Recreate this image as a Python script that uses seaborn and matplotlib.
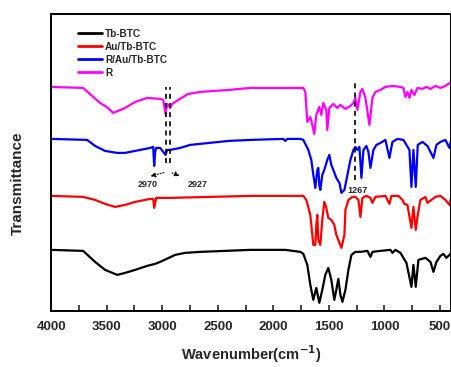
import numpy as np
import pandas as pd
import seaborn as sns
import matplotlib.pyplot as plt

# FTIR spectra (transmittance, arbitrary units incl. stacking offset)
r_wn = [4000, 3712, 3640, 3560, 3500, 3441, 3333, 3243, 3135, 3018, 2990, 2970, 2955, 2940, 2927,
        2910, 2856, 2766, 2658, 2400, 2207, 1910, 1730, 1712, 1694, 1667, 1649, 1631, 1613, 1586,
        1568, 1550, 1523, 1514, 1496, 1460, 1424, 1396, 1351, 1306, 1279, 1261, 1243, 1216, 1198,
        1171, 1135, 1108, 1081, 1036, 991, 928, 856, 829, 811, 793, 775, 757, 730, 703,
        658, 622, 586, 541, 496, 451, 400]
r_T = [224, 223, 216, 208, 204, 198, 203, 209, 213, 212, 211, 197, 207, 205, 203,
       207, 211, 217, 219, 221, 223, 223, 223, 219, 189, 194, 186, 177, 196, 204,
       196, 208, 201, 181, 203, 207, 203, 206, 202, 205, 208, 213, 201, 219, 222,
       213, 186, 213, 219, 221, 224, 225, 224, 223, 214, 219, 213, 221, 216, 223,
       222, 224, 222, 225, 223, 225, 229]

rau_wn = [4000, 3676, 3604, 3514, 3405, 3333, 3243, 3108, 3081, 3072, 3063, 3054, 3018, 2970, 2955,
          2927, 2838, 2748, 2400, 2207, 1910, 1892, 1874, 1757, 1730, 1685, 1658, 1640, 1622, 1604,
          1595, 1586, 1577, 1559, 1541, 1514, 1496, 1478, 1460, 1433, 1405, 1387, 1360, 1333, 1306,
          1279, 1261, 1243, 1225, 1207, 1189, 1162, 1144, 1126, 1099, 1072, 1036, 991, 955, 928,
          883, 829, 802, 775, 757, 739, 718, 700, 658, 613, 559, 532, 496, 451, 415, 400]
rau_T = [172, 171, 165, 160, 158, 158, 160, 163, 164, 145, 159, 163, 163, 156, 161,
         161, 163, 166, 170, 171, 172, 170, 172, 172, 171, 161, 151, 136, 123, 141,
         143, 126, 121, 136, 141, 151, 156, 146, 141, 133, 128, 118, 121, 136, 151,
         161, 164, 161, 164, 133, 161, 165, 159, 143, 161, 166, 168, 171, 153, 169,
         172, 171, 166, 161, 124, 161, 124, 166, 169, 165, 153, 166, 169, 171, 163, 171]

au_wn = [4000, 3712, 3604, 3514, 3423, 3333, 3243, 3108, 3081, 3072, 3054, 2927, 2207, 1730, 1703,
         1667, 1640, 1622, 1613, 1604, 1595, 1577, 1559, 1541, 1523, 1505, 1478, 1451, 1433, 1387,
         1360, 1351, 1324, 1288, 1261, 1234, 1216, 1198, 1162, 1126, 1108, 1081, 991, 955, 937,
         874, 838, 820, 793, 757, 739, 718, 700, 676, 631, 613, 577, 541, 496, 451, 415, 400]
au_T = [115, 114, 111, 107, 104, 106, 109, 112, 112, 103, 113, 113, 115, 115, 111,
        96, 66, 66, 86, 96, 71, 66, 91, 109, 103, 93, 91, 86, 76, 63,
        76, 101, 111, 114, 114, 111, 94, 113, 115, 113, 108, 114, 115, 107, 115,
        115, 111, 107, 106, 83, 104, 81, 96, 111, 114, 108, 111, 114, 115, 111, 106, 113]

tb_wn = [4000, 3712, 3604, 3514, 3405, 3333, 3243, 3135, 3063, 3018, 2883, 2793, 2658, 2207, 1892,
         1757, 1730, 1694, 1667, 1640, 1613, 1586, 1559, 1532, 1505, 1478, 1451, 1433, 1415, 1396,
         1378, 1351, 1324, 1297, 1261, 1216, 1153, 1126, 1108, 1036, 946, 928, 901, 856, 829,
         802, 757, 739, 718, 694, 631, 586, 559, 532, 496, 469, 442, 415, 400]
tb_T = [61, 60, 49, 41, 36, 38, 41, 45, 47, 49, 56, 58, 59, 61, 61,
        59, 57, 46, 26, 11, 23, 8, 21, 36, 43, 31, 11, 21, 32, 16,
        9, 21, 41, 56, 59, 59, 60, 54, 59, 60, 61, 58, 61, 58, 53,
        48, 24, 46, 24, 51, 53, 49, 39, 49, 55, 57, 53, 56, 58]

names = ["Tb-BTC", "Au/Tb-BTC", "R/Au/Tb-BTC", "R"]
colors = ["black", "#ff0000", "#0000ff", "#ff00ff"]
marks = [2970, 2927, 1267]

df = pd.concat([
    pd.DataFrame({"wn": tb_wn, "T": tb_T, "sample": "Tb-BTC"}),
    pd.DataFrame({"wn": au_wn, "T": au_T, "sample": "Au/Tb-BTC"}),
    pd.DataFrame({"wn": rau_wn, "T": rau_T, "sample": "R/Au/Tb-BTC"}),
    pd.DataFrame({"wn": r_wn, "T": r_T, "sample": "R"}),
])

sns.set_style("white")
plt.rcParams["font.family"] = ["Liberation Sans", "DejaVu Sans"]
plt.rcParams["font.weight"] = "bold"
plt.rcParams["mathtext.default"] = "bf"

fig = plt.figure(figsize=(4.52, 3.67), dpi=100)
ax = fig.add_axes([0.113, 0.153, 0.885, 0.809])

sns.lineplot(data=df, x="wn", y="T", hue="sample", hue_order=names, palette=colors,
             sort=False, estimator=None, linewidth=1.6, ax=ax)

# dashed marker lines
ax.plot([marks[0], marks[0]], [148, 224], color="black", ls=(0, (3, 2.5)), lw=1.2)
ax.plot([marks[1], marks[1]], [148, 224], color="black", ls=(0, (3, 2.5)), lw=1.2)
ax.plot([marks[2], marks[2]], [131, 229], color="black", ls=(0, (3, 2.5)), lw=1.2)

ax.annotate("", xy=(3130, 134), xytext=(2960, 139),
            arrowprops=dict(arrowstyle="-|>", ls=":", color="black", lw=0.8, mutation_scale=7))
ax.annotate("", xy=(2820, 134), xytext=(2935, 139),
            arrowprops=dict(arrowstyle="-|>", ls=":", color="black", lw=0.8, mutation_scale=7))
ax.text(3130, 126, "2970", fontsize=6.5, fontweight="bold", ha="center", va="center")
ax.text(2680, 126, "2927", fontsize=6.5, fontweight="bold", ha="center", va="center")
ax.text(1240, 120, "1267", fontsize=6.5, fontweight="bold", ha="center", va="center")

ax.set_xlim(4000, 400)
ax.set_ylim(0, 297)
ax.set_xticks([4000, 3500, 3000, 2500, 2000, 1500, 1000, 500])
ax.set_xticks(np.arange(3750, 400, -500), minor=True)
ax.set_yticks([])
ax.tick_params(axis="x", which="both", direction="in", length=4, width=1.2,
               labelsize=9.5, bottom=True, pad=7)
for lab in ax.get_xticklabels():
    lab.set_fontweight("bold")
for sp in ax.spines.values():
    sp.set_linewidth(1.4)
    sp.set_color("black")

ax.set_xlabel("Wavenumber(cm$^{-1}$)", fontsize=10.5, fontweight="bold", labelpad=8)
ax.set_ylabel("")
fig.text(0.04, 0.5, "Transmittance", rotation=90, fontsize=11, fontweight="bold",
         ha="center", va="center")

leg = ax.legend(loc="upper left", bbox_to_anchor=(0.045, 0.98), frameon=False,
                fontsize=7.2, handlelength=2.4, handletextpad=0.3, labelspacing=0.3)
for line in leg.get_lines():
    line.set_linewidth(2)
for t in leg.get_texts():
    t.set_fontweight("bold")

fig.savefig("out.png", dpi=100)
